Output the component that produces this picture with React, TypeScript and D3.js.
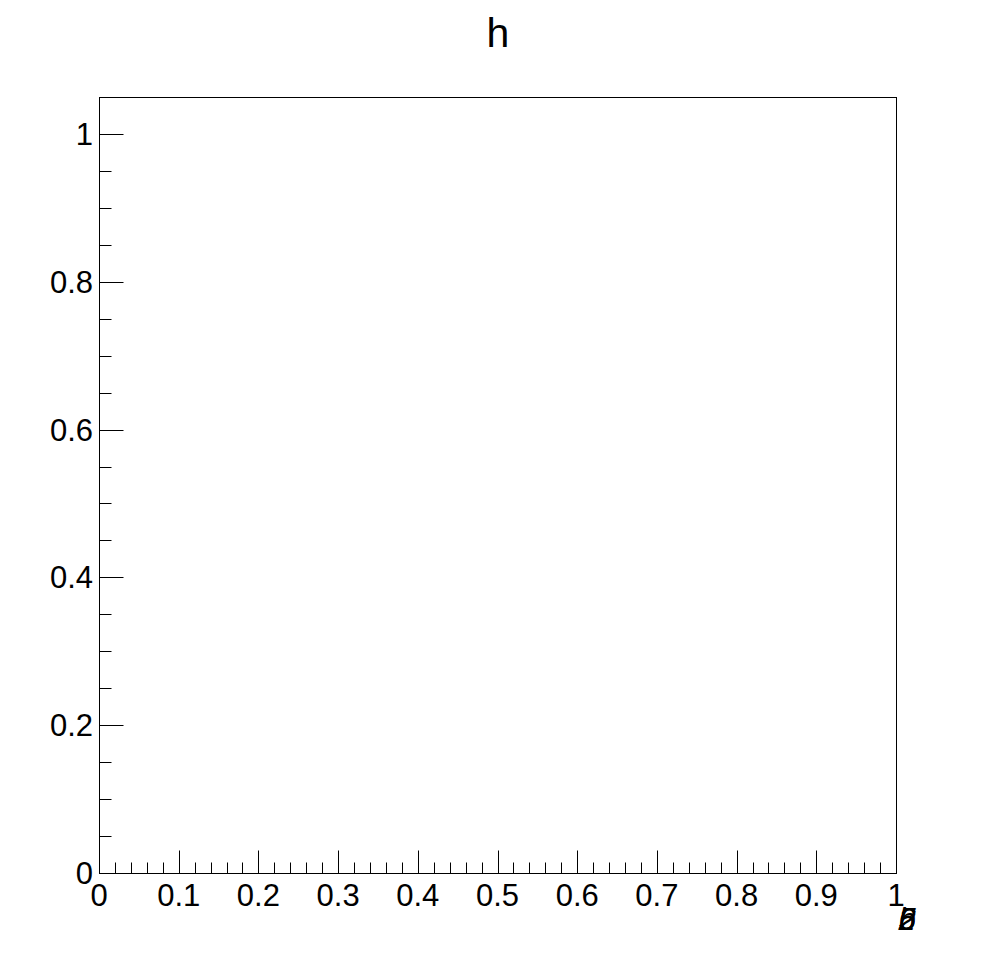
import React, { useEffect, useRef } from 'react';
import * as d3 from 'd3';

const chartTitle = 'h';
const xDomain = [0, 1];
const yDomain = [0, 1.05];
const xMajorTicks = [0, 0.1, 0.2, 0.3, 0.4, 0.5, 0.6, 0.7, 0.8, 0.9, 1];
const yMajorTicks = [0, 0.2, 0.4, 0.6, 0.8, 1];
const cornerGlyphs = ['5', '6', 'b', '2'];

const App = () => {
  const ref = useRef<SVGSVGElement>(null);

  useEffect(() => {
    const svg = d3.select(ref.current);
    svg.selectAll('*').remove();

    const width = 996;
    const height = 972;
    const margin = { top: 97, right: 100, bottom: 99, left: 99 };
    const font = '"Liberation Sans", Arial, sans-serif';

    const x = d3.scaleLinear().domain(xDomain).range([margin.left, width - margin.right]);
    const y = d3.scaleLinear().domain(yDomain).range([height - margin.bottom, margin.top]);

    svg.append('rect').attr('width', width).attr('height', height).attr('fill', '#fff');

    // frame
    svg
      .append('rect')
      .attr('x', x(0) + 0.5)
      .attr('y', y(1.05) + 0.5)
      .attr('width', x(1) - x(0))
      .attr('height', y(0) - y(1.05))
      .attr('fill', 'none')
      .attr('stroke', '#000')
      .attr('stroke-width', 1);

    // x axis ticks
    const xMinor = d3.range(0, 51).map((i) => i * 0.02);
    svg
      .append('g')
      .selectAll('line')
      .data(xMinor)
      .enter()
      .append('line')
      .attr('x1', (d) => Math.round(x(d)) + 0.5)
      .attr('x2', (d) => Math.round(x(d)) + 0.5)
      .attr('y1', y(0) + 0.5)
      .attr('y2', (d, i) => y(0) + 0.5 - (i % 5 === 0 ? 23 : 11))
      .attr('stroke', '#000');

    svg
      .append('g')
      .selectAll('text')
      .data(xMajorTicks)
      .enter()
      .append('text')
      .attr('x', (d) => x(d))
      .attr('y', y(0) + 33)
      .attr('text-anchor', 'middle')
      .attr('font-family', font)
      .attr('font-size', 31)
      .text((d) => d3.format('~g')(d));

    // y axis ticks
    const yMinor = d3.range(0, 22).map((i) => i * 0.05);
    svg
      .append('g')
      .selectAll('line')
      .data(yMinor)
      .enter()
      .append('line')
      .attr('x1', x(0) + 0.5)
      .attr('x2', (d, i) => x(0) + 0.5 + (i % 4 === 0 ? 24 : 12))
      .attr('y1', (d) => Math.round(y(d)) + 0.5)
      .attr('y2', (d) => Math.round(y(d)) + 0.5)
      .attr('stroke', '#000');

    svg
      .append('g')
      .selectAll('text')
      .data(yMajorTicks)
      .enter()
      .append('text')
      .attr('x', x(0) - 6)
      .attr('y', (d) => y(d) + 11)
      .attr('text-anchor', 'end')
      .attr('font-family', font)
      .attr('font-size', 31)
      .text((d) => d3.format('~g')(d));

    // overlapping labels in the corner
    svg
      .append('g')
      .selectAll('text')
      .data(cornerGlyphs)
      .enter()
      .append('text')
      .attr('x', 907)
      .attr('y', 930)
      .attr('text-anchor', 'middle')
      .attr('font-family', font)
      .attr('font-style', 'italic')
      .attr('font-size', 31)
      .text((d) => d);

    // title
    svg
      .append('text')
      .attr('x', 498)
      .attr('y', 47)
      .attr('text-anchor', 'middle')
      .attr('font-family', font)
      .attr('font-size', 41)
      .text(chartTitle);
  }, []);

  return <svg ref={ref} width={996} height={972} style={{ display: 'block', margin: -8 }} />;
};

export default App;
